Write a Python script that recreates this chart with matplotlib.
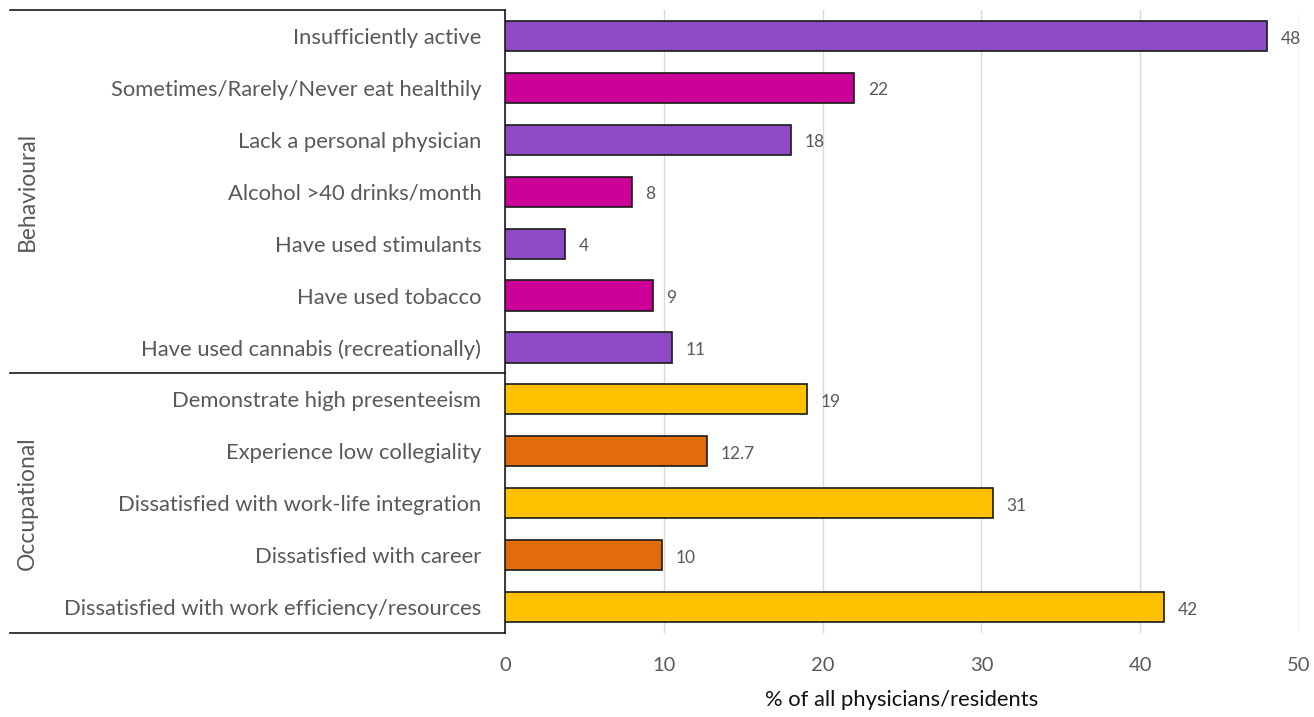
import matplotlib
matplotlib.use("Agg")
import matplotlib.pyplot as plt
from matplotlib.lines import Line2D

categories = [
    "Insufficiently active",
    "Sometimes/Rarely/Never eat healthily",
    "Lack a personal physician",
    "Alcohol >40 drinks/month",
    "Have used stimulants",
    "Have used tobacco",
    "Have used cannabis (recreationally)",
    "Demonstrate high presenteeism",
    "Experience low collegiality",
    "Dissatisfied with work-life integration",
    "Dissatisfied with career",
    "Dissatisfied with work efficiency/resources",
]
values = [48, 22, 18, 8, 3.8, 9.3, 10.5, 19, 12.7, 30.7, 9.9, 41.5]
value_labels = ["48", "22", "18", "8", "4", "9", "11", "19", "12.7", "31", "10", "42"]
groups = ["Behavioural", "Occupational"]
group_sizes = [7, 5]
colors = ["#8E4AC6", "#CC0099", "#8E4AC6", "#CC0099", "#8E4AC6", "#CC0099", "#8E4AC6",
          "#FFC000", "#E36C0A", "#FFC000", "#E36C0A", "#FFC000"]
xticks = [0, 10, 20, 30, 40, 50]
xlabel = "% of all physicians/residents"

plt.rcParams['font.family'] = ['Lato', 'DejaVu Sans']
gray = "#595959"

fig = plt.figure(figsize=(13.14, 7.17), dpi=100)
ax = fig.add_axes([505/1314, 1 - 633/717, (1299 - 505)/1314, (633 - 10)/717])

ypos = list(range(len(categories)))
ax.barh(ypos, values, height=0.58, color=colors, edgecolor="#1a1a1a", linewidth=1.2, zorder=3)
for y, v, lab in zip(ypos, values, value_labels):
    ax.text(v + 0.85, y + 0.05, lab, va="center", ha="left", fontsize=12.5, color=gray)

ax.set_ylim(len(categories) - 0.5, -0.5)
ax.set_xlim(0, 50)
ax.set_xticks(xticks)
ax.set_yticks(ypos)
ax.set_yticklabels(categories, fontsize=15.8, color=gray)
ax.tick_params(axis="y", length=0, pad=17)
ax.tick_params(axis="x", length=0, pad=17, labelsize=14.5, labelcolor=gray)
ax.grid(axis="x", color="#d9d9d9", linewidth=1, zorder=0)
for s in ["top", "right", "bottom"]:
    ax.spines[s].set_visible(False)
ax.spines["left"].set_color("#1a1a1a")
ax.spines["left"].set_linewidth(1.2)
ax.set_xlabel(xlabel, fontsize=15.8, color="#111111", labelpad=12)

# group separators and labels
trans = ax.get_yaxis_transform()
x0 = (10 - 505) / 794
bounds = [-0.5]
for g in group_sizes:
    bounds.append(bounds[-1] + g)
for b in bounds:
    ax.add_line(Line2D([x0, 0], [b, b], transform=trans, color="#1a1a1a", linewidth=1.2, clip_on=False))
for name, lo, hi in zip(groups, bounds[:-1], bounds[1:]):
    ax.text((27 - 505) / 794, (lo + hi) / 2, name, transform=trans, rotation=90,
            ha="center", va="center", fontsize=16.5, color=gray)

fig.savefig("out.png", dpi=100)
